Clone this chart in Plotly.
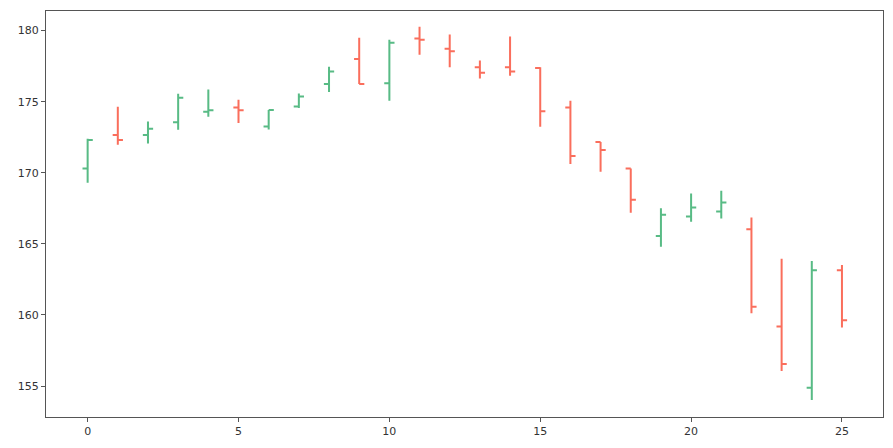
import plotly.graph_objects as go

x_vals = list(range(26))
open_vals = [170.3, 172.65, 172.65, 173.55, 174.3, 174.6, 173.26, 174.67, 176.25, 178.0,
             176.29, 179.44, 178.73, 177.42, 177.42, 177.37, 174.6, 172.16, 170.3, 165.56,
             166.92, 167.27, 166.03, 159.18, 154.88, 163.15]
high_vals = [172.4, 174.65, 173.6, 175.56, 175.85, 175.14, 174.42, 175.58, 177.46, 179.5,
             179.35, 180.28, 179.72, 177.89, 179.58, 177.42, 175.07, 172.16, 170.3, 167.51,
             168.54, 168.73, 166.85, 163.96, 163.8, 163.52]
low_vals = [169.3, 171.97, 172.06, 173.03, 173.94, 173.5, 173.05, 174.56, 175.68, 176.25,
            175.07, 178.3, 177.42, 176.64, 176.83, 173.24, 170.61, 170.07, 167.18, 164.79,
            166.55, 166.78, 160.12, 156.06, 154.01, 159.11]
close_vals = [172.3, 172.3, 173.1, 175.28, 174.4, 174.39, 174.42, 175.37, 177.13, 176.25,
              179.15, 179.35, 178.54, 177.04, 177.13, 174.32, 171.18, 171.6, 168.1, 167.04,
              167.56, 167.91, 160.58, 156.55, 163.15, 159.63]
x_ticks = [0, 5, 10, 15, 20, 25]
y_ticks = [155, 160, 165, 170, 175, 180]

fig = go.Figure(go.Ohlc(
    x=x_vals, open=open_vals, high=high_vals, low=low_vals, close=close_vals,
    increasing=dict(line=dict(color="#46b478", width=2)),
    decreasing=dict(line=dict(color="#fa5f4b", width=2)),
    tickwidth=0.17, opacity=0.9, hoverinfo="skip",
))

axis_common = dict(showgrid=False, zeroline=False, showline=True, linecolor="#555",
                   linewidth=1, mirror=True, ticks="outside", ticklen=4, tickcolor="#555",
                   automargin=False,
                   tickfont=dict(family="DejaVu Sans", size=11, color="#333"))
fig.update_layout(
    width=893, height=448,
    margin=dict(l=46, r=10, t=11, b=31),
    paper_bgcolor="white", plot_bgcolor="white",
    showlegend=False,
    xaxis=dict(range=[-1.38, 26.36], tickvals=x_ticks, rangeslider=dict(visible=False), **axis_common),
    yaxis=dict(range=[152.82, 181.38], tickvals=y_ticks, **axis_common),
)
fig.write_html("out.html", post_script="document.body.style.margin='0';",
               config={"displayModeBar": False})
